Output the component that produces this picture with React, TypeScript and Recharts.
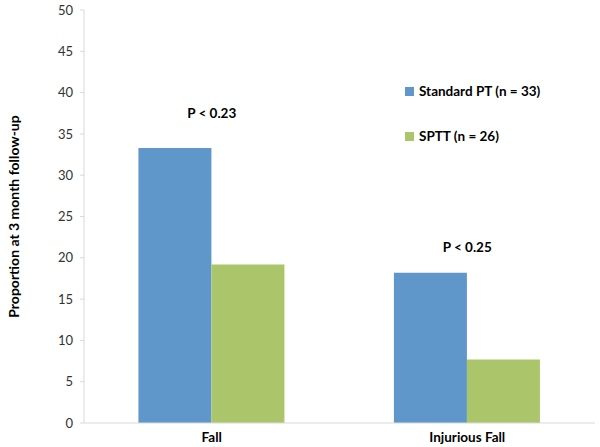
import React from 'react';
import {
  BarChart, Bar, XAxis, YAxis, ReferenceDot,
} from 'recharts';

const categories = ['Fall', 'Injurious Fall'];
const standardPT = [33.3, 18.2];
const sptt = [19.2, 7.7];
const pLabels = ['P < 0.23', 'P < 0.25'];
// where the p-value text sits, in axis units
const pLabelY = [37.5, 21.3];
const yTicks = [0, 5, 10, 15, 20, 25, 30, 35, 40, 45, 50];
const seriesNames = ['Standard PT (n = 33)', 'SPTT (n = 26)'];

const BLUE = '#6097ca';
const GREEN = '#abc56b';
const FONT = 'Lato, "Open Sans", sans-serif';

const data = categories.map((name, i) => ({
  name,
  standard: standardPT[i],
  sptt: sptt[i],
}));

function LegendBox() {
  const colors = [BLUE, GREEN];
  return (
    <div style={{ position: 'absolute', left: 405, top: 81, fontFamily: FONT }}>
      {seriesNames.map((label, i) => (
        <div
          key={label}
          style={{ display: 'flex', alignItems: 'center', height: 20, marginBottom: i === 0 ? 25 : 0 }}
        >
          <span style={{ width: 9, height: 9, background: colors[i], marginRight: 5, display: 'inline-block' }} />
          <span style={{ fontSize: 13.5, fontWeight: 700, color: '#000' }}>{label}</span>
        </div>
      ))}
    </div>
  );
}

export default function App() {
  return (
    <div style={{ position: 'relative', width: 600, height: 447 }}>
      <style>{'body{margin:0}'}</style>
      <BarChart
        width={600}
        height={447}
        data={data}
        margin={{ top: 10, right: 5, left: 0, bottom: 0 }}
        barCategoryGap="21.3%"
        barGap={0}
      >
        <XAxis
          dataKey="name"
          height={24}
          axisLine={{ stroke: '#d9d9d9' }}
          tickLine={false}
          tickMargin={3}
          tick={{ fontSize: 13.5, fontWeight: 700, fill: '#000', fontFamily: FONT }}
        />
        <YAxis
          domain={[0, 50]}
          ticks={yTicks}
          width={84}
          axisLine={{ stroke: '#d9d9d9' }}
          tickLine={{ stroke: '#d9d9d9' }}
          tickSize={4}
          tickMargin={7}
          tick={{ fontSize: 13, fill: '#333', fontFamily: FONT }}
          label={{
            content: (props: any) => {
              const vb = props.viewBox;
              const cx = 13;
              const cy = vb.y + vb.height / 2;
              return (
                <text
                  x={cx}
                  y={cy}
                  transform={`rotate(-90 ${cx} ${cy})`}
                  textAnchor="middle"
                  dominantBaseline="central"
                  style={{ fontSize: 14, fontWeight: 700, fill: '#000', fontFamily: FONT }}
                >
                  Proportion at 3 month follow-up
                </text>
              );
            },
          }}
        />
        <Bar dataKey="standard" fill={BLUE} isAnimationActive={false} />
        <Bar dataKey="sptt" fill={GREEN} isAnimationActive={false} />
        {categories.map((c, i) => (
          <ReferenceDot
            key={c}
            x={c}
            y={pLabelY[i]}
            r={0}
            fill="none"
            stroke="none"
            label={{
              value: pLabels[i],
              position: 'center',
              style: { fontSize: 13.5, fontWeight: 700, fill: '#000', fontFamily: FONT },
            }}
          />
        ))}
      </BarChart>
      <LegendBox />
    </div>
  );
}
